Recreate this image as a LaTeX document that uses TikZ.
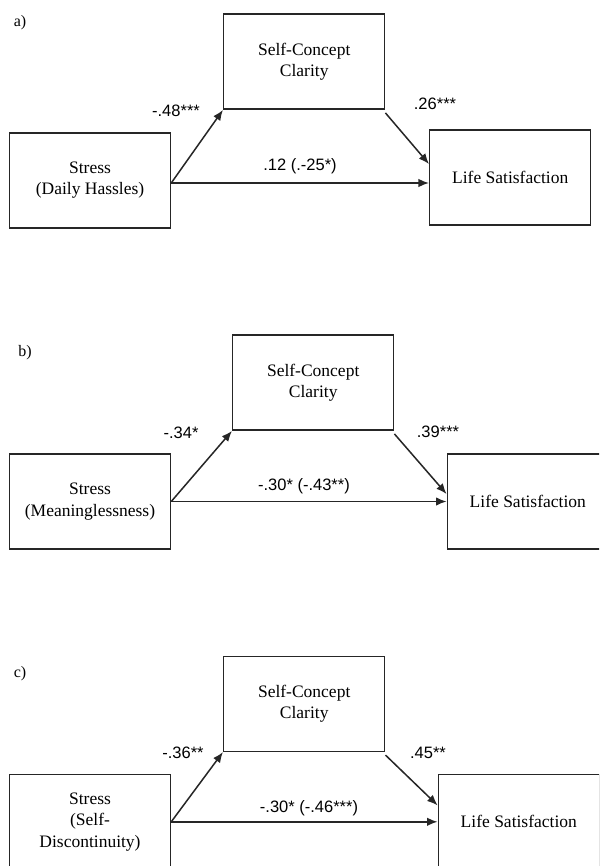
\documentclass[tikz,border=0pt]{standalone}
\usepackage{fontspec}
\setmainfont{Liberation Serif}
\newfontfamily\lblfont{Liberation Sans}
\usetikzlibrary{arrows.meta}
\begin{document}
\begin{tikzpicture}[x=1pt,y=-1pt,
  box/.style={draw=black!85, line width=1.5pt, minimum width=161pt, minimum height=95pt,
    inner sep=0pt, align=center, font=\fontsize{17.5}{21.5}\selectfont},
  coef/.style={font=\lblfont\fontsize{16.5}{19}\selectfont, inner sep=0pt},
  panel/.style={font=\fontsize{16}{19}\selectfont, inner sep=0pt},
  arr/.style={draw=black!85, line width=1.5pt, -{Latex[length=10.5pt,width=8.5pt]}}]
\useasboundingbox (0,0) rectangle (599,866);
\clip (0,0) rectangle (599,866);
\fill[white] (0,0) rectangle (599,866);

% ---------- panel a ----------
\node[panel] (pa) at (20,23) {a)};
\node[box] (sa) at (90,180.3) {Stress\\(Daily Hassles)};
\node[box] (ca) at (304.2,61.7) {Self-Concept\\Clarity};
\node[box] (la) at (510.2,177.7) {Life Satisfaction};
\coordinate (sa0) at ([yshift=-2.7pt]sa.east);
\draw[arr] (sa0) -- (sa0 -| la.west);
\draw[arr] (sa0) -- (ca.south west);
\draw[arr] ([yshift=-3pt]ca.south east) -- ([yshift=13.7pt]la.west);
\node[coef] (ka1) at (176,111) {-.48***};
\node[coef] (ka2) at (435,104) {.26***};
\node[coef] (ka3) at (300,166) {.12 (.-25*)};

% ---------- panel b ----------
\node[panel] (pb) at (25,353) {b)};
\node[box] (sb) at (90,501.5) {Stress\\(Meaninglessness)};
\node[box] (cb) at (313.2,382.7) {Self-Concept\\Clarity};
\node[box] (lb) at (527.8,501.3) {Life Satisfaction};
\coordinate (sb0) at (sb.east);
\draw[arr] (sb0) -- (sb0 -| lb.west);
\draw[arr] (sb0) -- (cb.south west);
\draw[arr] ([yshift=-3pt]cb.south east) -- ([yshift=7.3pt]lb.west);
\node[coef] (kb1) at (181,433) {-.34*};
\node[coef] (kb2) at (438,432) {.39***};
\node[coef] (kb3) at (304,486.7) {-.30* (-.43**)};

% ---------- panel c ----------
\node[panel] (pc) at (20,674) {c)};
\node[box] (sc) at (90,821.8) {Stress\\(Self-\\Discontinuity)};
\node[box] (cc) at (304.2,703.8) {Self-Concept\\Clarity};
\node[box] (lc) at (518.8,821.8) {Life Satisfaction};
\coordinate (sc0) at (sc.east);
\draw[arr] (sc0) -- (sc0 -| lc.west);
\draw[arr] (sc0) -- (cc.south west);
\draw[arr] ([yshift=-3pt]cc.south east) -- ([yshift=16.5pt]lc.west);
\node[coef] (kc1) at (183,753.3) {-.36**};
\node[coef] (kc2) at (428,753) {.45**};
\node[coef] (kc3) at (309,808) {-.30* (-.46***)};
\end{tikzpicture}
\end{document}
